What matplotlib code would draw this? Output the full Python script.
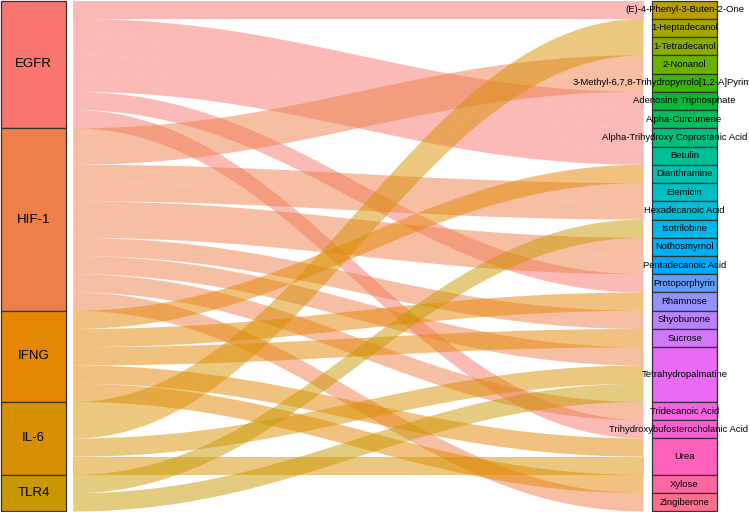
import numpy as np
import matplotlib.pyplot as plt
from matplotlib.patches import Rectangle, Polygon

# left axis (targets) and right axis (compounds), top to bottom
sources = ["EGFR", "HIF-1", "IFNG", "IL-6", "TLR4"]
compounds = [
    "(E)-4-Phenyl-3-Buten-2-One", "1-Heptadecanol", "1-Tetradecanol", "2-Nonanol",
    "3-Methyl-6,7,8-Trihydropyrrolo[1,2-A]Pyrimidin-2-One", "Adenosine Triphosphate",
    "Alpha-Curcumene", "Alpha-Trihydroxy Coprostanic Acid", "Betulin", "Dianthramine",
    "Elemicin", "Hexadecanoic Acid", "Isotrilobine", "Nothosmyrnol", "Pentadecanoic Acid",
    "Protoporphyrin", "Rhamnose", "Shyobunone", "Sucrose", "Tetrahydropalmatine",
    "Tridecanoic Acid", "Trihydroxybufosterocholanic Acid", "Urea", "Xylose", "Zingiberone",
]

egfr_links = ["(E)-4-Phenyl-3-Buten-2-One", "Adenosine Triphosphate", "Alpha-Curcumene",
              "Alpha-Trihydroxy Coprostanic Acid", "Betulin", "Protoporphyrin",
              "Trihydroxybufosterocholanic Acid"]
hif1_links = ["2-Nonanol", "3-Methyl-6,7,8-Trihydropyrrolo[1,2-A]Pyrimidin-2-One", "Elemicin",
              "Hexadecanoic Acid", "Nothosmyrnol", "Pentadecanoic Acid", "Shyobunone",
              "Tetrahydropalmatine", "Tridecanoic Acid", "Zingiberone"]
ifng_links = ["Dianthramine", "Rhamnose", "Sucrose", "Urea", "Xylose"]
il6_links = ["1-Heptadecanol", "1-Tetradecanol", "Tetrahydropalmatine", "Urea"]
tlr4_links = ["Isotrilobine", "Tetrahydropalmatine"]


def hcl(h, c=100.0, l=65.0):
    # CIE-LCh(uv) -> sRGB, same as R's hcl()
    hr = np.deg2rad(h)
    U, V = c * np.cos(hr), c * np.sin(hr)
    Y = ((l + 16) / 116) ** 3
    un, vn = 0.1978398, 0.4683363
    u = U / (13 * l) + un
    v = V / (13 * l) + vn
    X = 9 * Y * u / (4 * v)
    Z = -X / 3 - 5 * Y + 3 * Y / v
    m = np.array([[3.240479, -1.537150, -0.498535],
                  [-0.969256, 1.875992, 0.041556],
                  [0.055648, -0.204043, 1.057311]])
    lin = m @ np.array([X, Y, Z])
    rgb = np.where(lin > 0.0031308, 1.055 * np.abs(lin) ** (1 / 2.4) - 0.055, 12.92 * lin)
    return tuple(np.clip(rgb, 0, 1))


def main():
    links = []
    for s, lst in zip(sources, [egfr_links, hif1_links, ifng_links, il6_links, tlr4_links]):
        for t in lst:
            links.append((sources.index(s), compounds.index(t)))
    n = len(links)

    levels = sources + compounds
    palette = [hcl(15 + 360 * i / len(levels)) for i in range(len(levels))]
    colors = {name: palette[i] for i, name in enumerate(levels)}

    # stratum extents (y grows downward)
    src_count = np.bincount([a for a, b in links], minlength=len(sources))
    dst_count = np.bincount([b for a, b in links], minlength=len(compounds))
    src_top = np.concatenate([[0], np.cumsum(src_count)[:-1]])
    dst_top = np.concatenate([[0], np.cumsum(dst_count)[:-1]])

    # lode positions: sorted by the other axis within each stratum
    left_pos, right_pos = {}, {}
    fill = src_top.astype(float).copy()
    for k in sorted(range(n), key=lambda k: (links[k][0], links[k][1])):
        left_pos[k] = fill[links[k][0]]
        fill[links[k][0]] += 1
    fill = dst_top.astype(float).copy()
    for k in sorted(range(n), key=lambda k: (links[k][1], links[k][0])):
        right_pos[k] = fill[links[k][1]]
        fill[links[k][1]] += 1

    fig = plt.figure(figsize=(7.49, 5.12), dpi=100)
    ax = fig.add_axes([0, 0, 1, 1])
    ax.set_xlim(0.9485, 2.099)
    ax.set_ylim(n + 0.03, -0.03)
    ax.axis("off")

    w = 0.1
    x0, x1 = 1 + w / 2 + 0.011, 2 - w / 2 - 0.013
    t = np.linspace(0, 1, 80)
    kx = 0.4 * (x1 - x0)
    bx = (1 - t) ** 3 * x0 + 3 * (1 - t) ** 2 * t * (x0 + kx) + 3 * (1 - t) * t ** 2 * (x1 - kx) + t ** 3 * x1
    by = 3 * (1 - t) * t ** 2 + t ** 3

    for k, (a, b) in enumerate(links):
        ya, yb = left_pos[k], right_pos[k]
        top = ya + (yb - ya) * by
        bot = top + 1
        xs = np.concatenate([bx, bx[::-1]])
        ys = np.concatenate([top, bot[::-1]])
        ax.add_patch(Polygon(np.column_stack([xs, ys]), closed=True,
                             facecolor=colors[sources[a]], alpha=0.5, edgecolor="none"))

    for i, s in enumerate(sources):
        ax.add_patch(Rectangle((1 - w / 2, src_top[i]), w, src_count[i],
                               facecolor=colors[s], edgecolor="#333333", linewidth=0.9))
        ax.text(1, src_top[i] + src_count[i] / 2, s, ha="center", va="center",
                fontsize=9.5, family="Liberation Sans")

    renderer = fig.canvas.get_renderer()
    right_px = fig.bbox.width - 1.5
    for i, c in enumerate(compounds):
        ax.add_patch(Rectangle((2 - w / 2, dst_top[i]), w, dst_count[i],
                               facecolor=colors[c], edgecolor="#333333", linewidth=0.9))
        txt = ax.text(2, dst_top[i] + dst_count[i] / 2, c, ha="center", va="center",
                      fontsize=6.8, family="Liberation Sans")
        bb = txt.get_window_extent(renderer)
        over = bb.x1 - right_px
        # long names are pulled back inside the edge when they can fit
        if over > 0 and bb.width < 190:
            px_per_x = fig.bbox.width / (2.099 - 0.9485)
            txt.set_x(2 - over / px_per_x)

    fig.savefig("out.png", dpi=100)


if __name__ == "__main__":
    main()
